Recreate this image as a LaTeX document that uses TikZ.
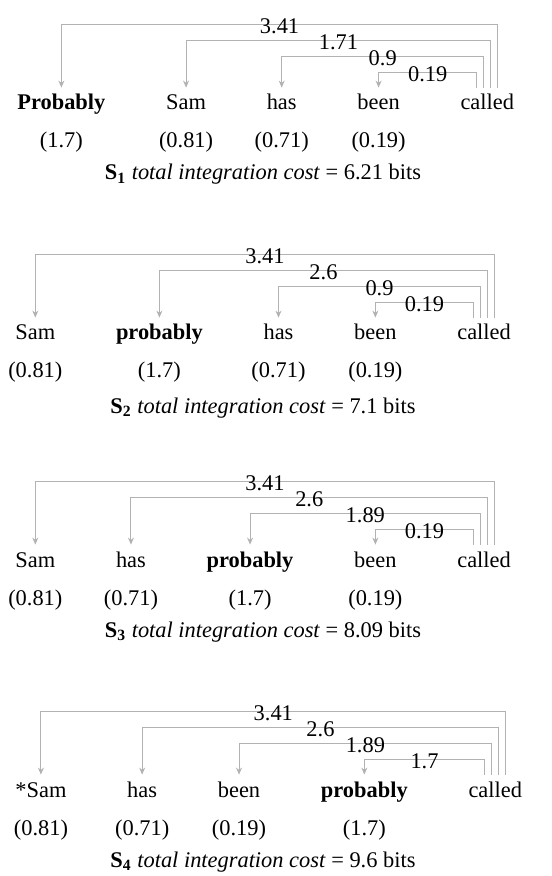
\documentclass[tikz,border=0pt]{standalone}
\usepackage{fontspec}
\setmainfont{Liberation Serif}
\usetikzlibrary{positioning,arrows.meta}

\tikzset{
    word/.style={inner xsep=0pt, inner ysep=4pt, text height=0.7em, text depth=0.25em},
    cost/.style={anchor=base},
    total/.style={anchor=base},
    weight/.style={inner sep=1pt, yshift=-0.7pt},
    dep/.style={draw=gray!60, line width=0.5pt, {Stealth[length=3.5pt,width=3pt]}-}
}

\begin{document}
\begin{tikzpicture}[every node/.style={font=\fontsize{11.2}{13.4}\selectfont}, node distance=30pt]
    \useasboundingbox (0,0) rectangle (275.5pt,-438pt);

    % S1
    \node[word, anchor=base west] (s1-prob) at (8.5pt,-55pt) {\textbf{Probably}};
    \node[word, base right=of s1-prob] (s1-sam) {Sam};
    \node[word, base right=of s1-sam] (s1-has) {has};
    \node[word, base right=of s1-has] (s1-been) {been};
    \node[word, base right=of s1-been] (s1-called) {called};
    \node[cost] (s1-c1) at ([yshift=-19pt]s1-prob.base) {(1.7)};
    \node[cost] (s1-c2) at ([yshift=-19pt]s1-sam.base) {(0.81)};
    \node[cost] (s1-c3) at ([yshift=-19pt]s1-has.base) {(0.71)};
    \node[cost] (s1-c4) at ([yshift=-19pt]s1-been.base) {(0.19)};
    \foreach \head/\lvl/\lab in {been/1/0.19, has/2/0.9, sam/3/1.71, prob/4/3.41}
        \draw[dep] (s1-\head.north) |- node[weight, pos=0.75] {\lab}
            ([xshift=\lvl*3.5pt-8.75pt, yshift=\lvl*8pt-0.5pt]s1-called.north)
            -- ([xshift=\lvl*3.5pt-8.75pt]s1-called.north);
    \node[total] (s1-total) at (131.5pt,-90pt) {\textbf{S\textsubscript{1}} \textit{total integration cost} = 6.21 bits};

    % S2
    \node[word, anchor=base west] (s2-sam) at (7.5pt,-170pt) {Sam};
    \node[word, base right=of s2-sam] (s2-prob) {\textbf{probably}};
    \node[word, base right=of s2-prob] (s2-has) {has};
    \node[word, base right=of s2-has] (s2-been) {been};
    \node[word, base right=of s2-been] (s2-called) {called};
    \node[cost] (s2-c1) at ([yshift=-19pt]s2-sam.base) {(0.81)};
    \node[cost] (s2-c2) at ([yshift=-19pt]s2-prob.base) {(1.7)};
    \node[cost] (s2-c3) at ([yshift=-19pt]s2-has.base) {(0.71)};
    \node[cost] (s2-c4) at ([yshift=-19pt]s2-been.base) {(0.19)};
    \foreach \head/\lvl/\lab in {been/1/0.19, has/2/0.9, prob/3/2.6, sam/4/3.41}
        \draw[dep] (s2-\head.north) |- node[weight, pos=0.75] {\lab}
            ([xshift=\lvl*3.5pt-8.75pt, yshift=\lvl*8pt-0.5pt]s2-called.north)
            -- ([xshift=\lvl*3.5pt-8.75pt]s2-called.north);
    \node[total] (s2-total) at (131.5pt,-206.5pt) {\textbf{S\textsubscript{2}} \textit{total integration cost} = 7.1 bits};

    % S3
    \node[word, anchor=base west] (s3-sam) at (7.5pt,-283.5pt) {Sam};
    \node[word, base right=of s3-sam] (s3-has) {has};
    \node[word, base right=of s3-has] (s3-prob) {\textbf{probably}};
    \node[word, base right=of s3-prob] (s3-been) {been};
    \node[word, base right=of s3-been] (s3-called) {called};
    \node[cost] (s3-c1) at ([yshift=-19pt]s3-sam.base) {(0.81)};
    \node[cost] (s3-c2) at ([yshift=-19pt]s3-has.base) {(0.71)};
    \node[cost] (s3-c3) at ([yshift=-19pt]s3-prob.base) {(1.7)};
    \node[cost] (s3-c4) at ([yshift=-19pt]s3-been.base) {(0.19)};
    \foreach \head/\lvl/\lab in {been/1/0.19, prob/2/1.89, has/3/2.6, sam/4/3.41}
        \draw[dep] (s3-\head.north) |- node[weight, pos=0.75] {\lab}
            ([xshift=\lvl*3.5pt-8.75pt, yshift=\lvl*8pt-0.5pt]s3-called.north)
            -- ([xshift=\lvl*3.5pt-8.75pt]s3-called.north);
    \node[total] (s3-total) at (131.5pt,-318.5pt) {\textbf{S\textsubscript{3}} \textit{total integration cost} = 8.09 bits};

    % S4
    \node[word, anchor=base west] (s4-sam) at (7.5pt,-398.5pt) {*Sam};
    \node[word, base right=of s4-sam] (s4-has) {has};
    \node[word, base right=of s4-has] (s4-been) {been};
    \node[word, base right=of s4-been] (s4-prob) {\textbf{probably}};
    \node[word, base right=of s4-prob] (s4-called) {called};
    \node[cost] (s4-c1) at ([yshift=-19pt]s4-sam.base) {(0.81)};
    \node[cost] (s4-c2) at ([yshift=-19pt]s4-has.base) {(0.71)};
    \node[cost] (s4-c3) at ([yshift=-19pt]s4-been.base) {(0.19)};
    \node[cost] (s4-c4) at ([yshift=-19pt]s4-prob.base) {(1.7)};
    \foreach \head/\lvl/\lab in {prob/1/1.7, been/2/1.89, has/3/2.6, sam/4/3.41}
        \draw[dep] (s4-\head.north) |- node[weight, pos=0.75] {\lab}
            ([xshift=\lvl*3.5pt-8.75pt, yshift=\lvl*8pt-0.5pt]s4-called.north)
            -- ([xshift=\lvl*3.5pt-8.75pt]s4-called.north);
    \node[total] (s4-total) at (131.5pt,-433.5pt) {\textbf{S\textsubscript{4}} \textit{total integration cost} = 9.6 bits};
\end{tikzpicture}
\end{document}
